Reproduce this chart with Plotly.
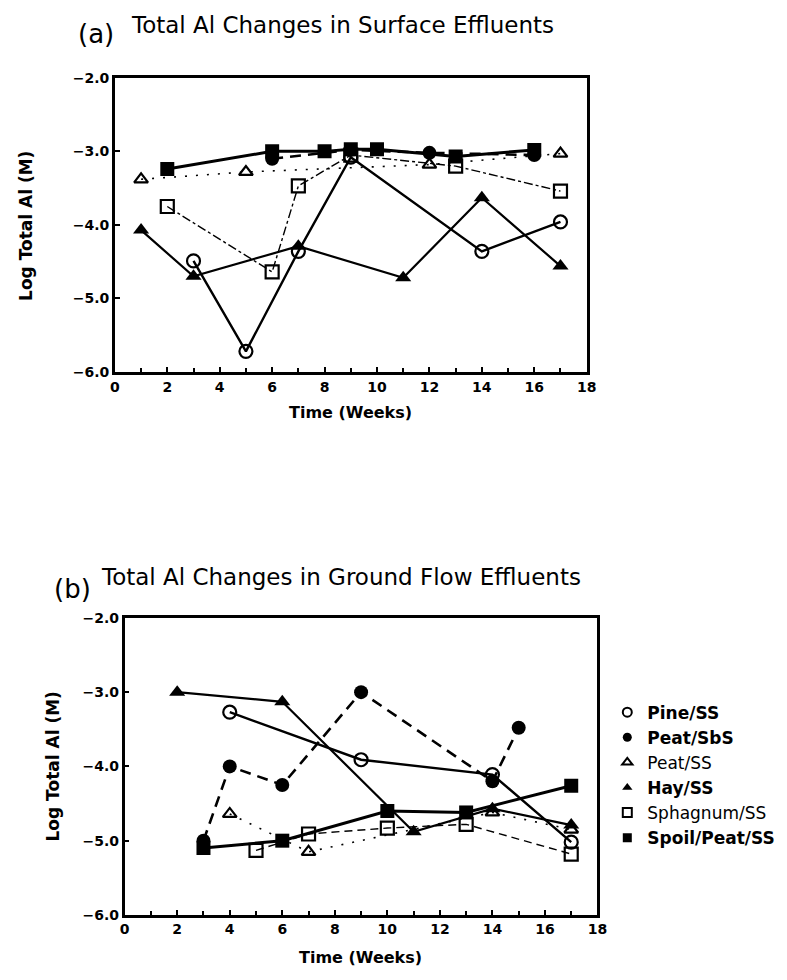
import plotly.graph_objects as go

FONT = "DejaVu Sans"

# ---- Panel (a): surface effluents (week, log total Al) ----
a_pine_wk = [3, 5, 7, 9, 14, 17]
a_pine_al = [-4.49, -5.72, -4.36, -3.08, -4.36, -3.96]
a_peatsbs_wk = [6, 9, 12, 16]
a_peatsbs_al = [-3.10, -2.98, -3.02, -3.05]
a_peatss_wk = [1, 5, 12, 17]
a_peatss_al = [-3.38, -3.28, -3.18, -3.03]
a_hay_wk = [1, 3, 7, 11, 14, 17]
a_hay_al = [-4.07, -4.70, -4.29, -4.72, -3.63, -4.56]
a_sphag_wk = [2, 6, 7, 9, 13, 17]
a_sphag_al = [-3.75, -4.64, -3.47, -3.05, -3.20, -3.54]
a_spoil_wk = [2, 6, 8, 9, 10, 13, 16]
a_spoil_al = [-3.24, -3.00, -3.00, -2.97, -2.97, -3.07, -2.98]

# ---- Panel (b): ground flow effluents ----
b_pine_wk = [4, 9, 14, 17]
b_pine_al = [-3.27, -3.91, -4.11, -5.02]
b_peatsbs_wk = [3, 4, 6, 9, 14, 15]
b_peatsbs_al = [-5.00, -4.00, -4.25, -3.00, -4.20, -3.48]
b_peatss_wk = [4, 7, 14, 17]
b_peatss_al = [-4.64, -5.15, -4.62, -4.85]
b_hay_wk = [2, 6, 11, 14, 17]
b_hay_al = [-3.00, -3.13, -4.88, -4.57, -4.79]
b_sphag_wk = [5, 7, 10, 13, 17]
b_sphag_al = [-5.13, -4.91, -4.83, -4.78, -5.18]
b_spoil_wk = [3, 6, 10, 13, 17]
b_spoil_al = [-5.10, -5.00, -4.60, -4.62, -4.26]

series_names = ["Pine/SS", "Peat/SbS", "Peat/SS", "Hay/SS", "Sphagnum/SS", "Spoil/Peat/SS"]
y_ticks = [-2.0, -3.0, -4.0, -5.0, -6.0]
x_ticks = list(range(0, 19, 2))

# marker / line style per series
STYLE = {
    "Pine/SS": dict(symbol="circle-open", line=dict(width=2.4, dash="solid"), bold=True),
    "Peat/SbS": dict(symbol="circle", line=dict(width=2.6, dash="11px,7px"), bold=True),
    "Peat/SS": dict(symbol="triangle-up-open", line=dict(width=1.6, dash="2px,9px"), bold=False),
    "Hay/SS": dict(symbol="triangle-up", line=dict(width=2.2, dash="solid"), bold=True),
    "Sphagnum/SS": dict(symbol="square-open", line=dict(width=1.4, dash="dashdot"), bold=False),
    "Spoil/Peat/SS": dict(symbol="square", line=dict(width=3.0, dash="solid"), bold=True),
}
SIZES = {"circle-open": 13, "circle": 14, "triangle-up-open": 12, "triangle-up": 14,
         "square-open": 13, "square": 14}

fig = go.Figure()


def add_series(name, wk, al, xa, ya, dash=None):
    st = STYLE[name]
    sym = st["symbol"]
    open_marker = sym.endswith("-open")
    line = dict(color="black", width=st["line"]["width"], dash=dash or st["line"]["dash"])
    fig.add_trace(go.Scatter(
        x=wk, y=al, mode="lines+markers", name=name, showlegend=False,
        xaxis=xa, yaxis=ya, line=line,
        marker=dict(symbol=sym, size=SIZES[sym], color="black",
                    line=dict(color="black", width=2.2 if open_marker else 0)),
    ))


# open markers first, filled markers on top
panel_a = {
    "Peat/SS": (a_peatss_wk, a_peatss_al), "Sphagnum/SS": (a_sphag_wk, a_sphag_al),
    "Pine/SS": (a_pine_wk, a_pine_al), "Hay/SS": (a_hay_wk, a_hay_al),
    "Peat/SbS": (a_peatsbs_wk, a_peatsbs_al), "Spoil/Peat/SS": (a_spoil_wk, a_spoil_al),
}
panel_b = {
    "Peat/SS": (b_peatss_wk, b_peatss_al), "Sphagnum/SS": (b_sphag_wk, b_sphag_al),
    "Pine/SS": (b_pine_wk, b_pine_al), "Hay/SS": (b_hay_wk, b_hay_al),
    "Peat/SbS": (b_peatsbs_wk, b_peatsbs_al), "Spoil/Peat/SS": (b_spoil_wk, b_spoil_al),
}
for name, (wk, al) in panel_a.items():
    add_series(name, wk, al, "x", "y")
for name, (wk, al) in panel_b.items():
    add_series(name, wk, al, "x2", "y2", dash="8px,5px" if name == "Sphagnum/SS" else None)

# legend-only entries (marker symbols)
for name in series_names:
    st = STYLE[name]
    label = f"<b>{name}</b>" if st["bold"] else name
    fig.add_trace(go.Scatter(
        x=[None], y=[None], mode="markers", name=label, xaxis="x2", yaxis="y2",
        legendgroup=name,
        marker=dict(symbol=st["symbol"], size=9, color="black",
                    line=dict(color="black", width=2 if st["symbol"].endswith("-open") else 0)),
    ))

W, H = 787, 980


def px_x(p):
    return p / W


def px_y(p):
    return 1 - p / H


axis_common = dict(
    showline=True, mirror=True, linecolor="black", linewidth=2.5,
    ticks="inside", tickcolor="black", ticklen=5, tickwidth=1.5,
    showgrid=False, zeroline=False,
    tickfont=dict(family=FONT, size=14, color="black", weight="bold"),
)

xcommon = dict(axis_common, range=[0, 18], tickvals=x_ticks,
               minor=dict(dtick=1, ticks="inside", ticklen=4, tickcolor="black", tickwidth=1.5))
ycommon = dict(axis_common, range=[-6, -2], tickvals=y_ticks, tickformat=".1f")

fig.update_layout(
    width=W, height=H,
    margin=dict(l=0, r=0, t=0, b=0),
    paper_bgcolor="white", plot_bgcolor="white",
    font=dict(family=FONT, color="black"),
    xaxis=dict(xcommon, domain=[px_x(112), px_x(593)], anchor="y"),
    yaxis=dict(ycommon, domain=[px_y(370), px_y(71)], anchor="x"),
    xaxis2=dict(xcommon, domain=[px_x(122), px_x(604)], anchor="y2"),
    yaxis2=dict(ycommon, domain=[px_y(922), px_y(620)], anchor="x2"),
    legend=dict(x=px_x(614), y=px_y(698), xanchor="left", yanchor="top",
                font=dict(family=FONT, size=17, color="black"),
                tracegroupgap=0, itemwidth=30, bgcolor="rgba(0,0,0,0)"),
    showlegend=True,
)

ann = []


def text(x, y, s, size, bold=False, angle=0, xanchor="center"):
    ann.append(dict(x=px_x(x), y=px_y(y), xref="paper", yref="paper", text=s,
                    showarrow=False, textangle=angle, xanchor=xanchor, yanchor="middle",
                    font=dict(family=FONT, size=size, color="black",
                              weight="bold" if bold else "normal")))


# panel titles
text(72, 26, "(a)", 26, xanchor="left")
text(126, 17, "Total Al Changes in Surface Effluents", 23, xanchor="left")
text(48, 591, "(b)", 26, xanchor="left")
text(96, 578, "Total Al Changes in Ground Flow Effluents", 23, xanchor="left")

# axis titles
text(22, 222, "Log Total Al (M)", 17, bold=True, angle=-90)
text(352, 411, "Time (Weeks)", 16, bold=True)
text(49, 771, "Log Total Al (M)", 17, bold=True, angle=-90)
text(362, 965, "Time (Weeks)", 16, bold=True)

fig.update_layout(annotations=ann)

fig.write_html("out.html")
